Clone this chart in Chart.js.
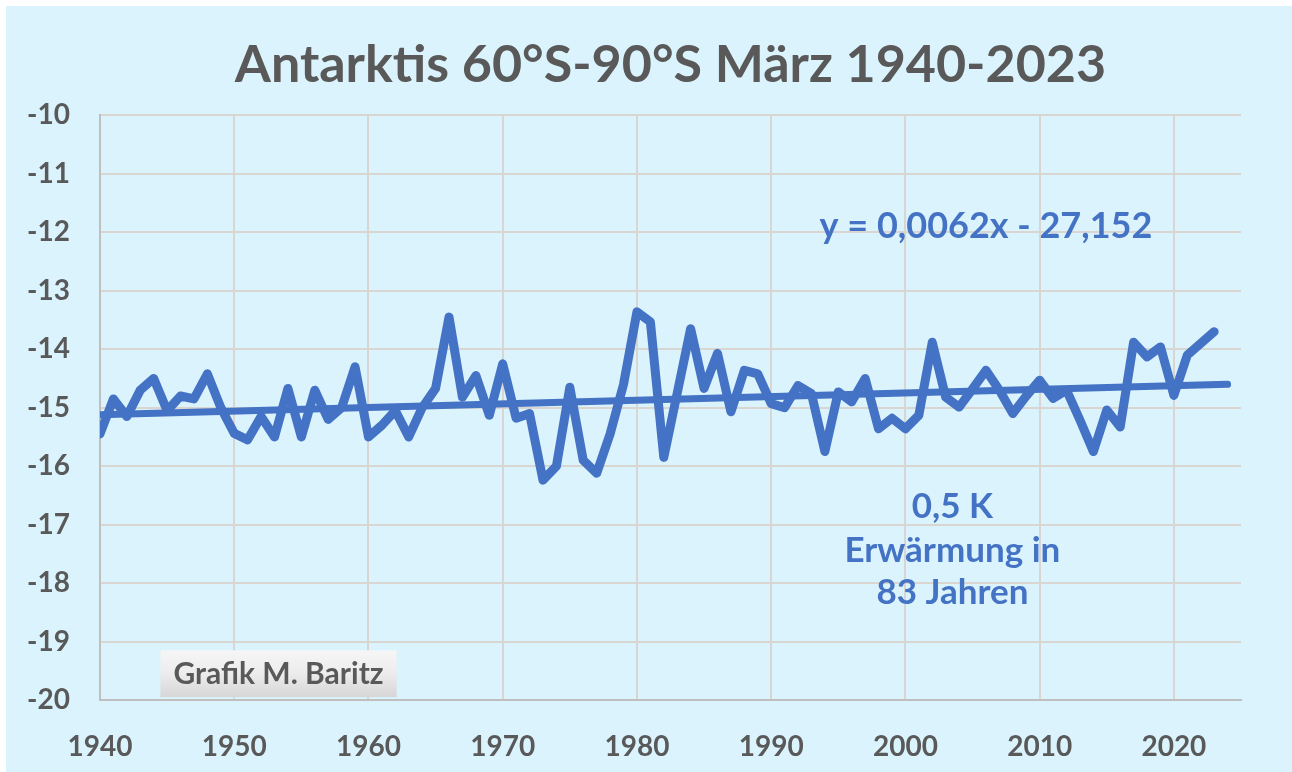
<!DOCTYPE html>
<html>
<head>
<meta charset="utf-8">
<script src="https://cdn.jsdelivr.net/npm/chart.js@4"></script>
<style>
  html, body { margin: 0; padding: 0; background: #ffffff; }
  #wrap { position: absolute; left: 6px; top: 6px; width: 1286px; height: 766px; background: #daf3fc; }
</style>
</head>
<body>
<div id="wrap"><canvas id="myChart" width="1286" height="766"></canvas></div>
<script>
// Jahre 1940-2023
const years = Array.from({ length: 84 }, (_, i) => 1940 + i);

// Temperatur März, Antarktis 60°S-90°S (°C)
const temps = [
  -15.45, -14.85, -15.15, -14.70, -14.50, -15.05, -14.80, -14.85, -14.42, -15.00,
  -15.44, -15.55, -15.15, -15.50, -14.67, -15.50, -14.70, -15.20, -15.00, -14.30,
  -15.50, -15.30, -15.05, -15.50, -15.00, -14.67, -13.45, -14.82, -14.45, -15.13,
  -14.25, -15.18, -15.10, -16.24, -16.00, -14.65, -15.90, -16.12, -15.45, -14.60,
  -13.36, -13.53, -15.85, -14.75, -13.65, -14.67, -14.07, -15.07, -14.36, -14.42,
  -14.93, -15.00, -14.62, -14.76, -15.75, -14.73, -14.90, -14.50, -15.36, -15.18,
  -15.36, -15.13, -13.88, -14.82, -14.99, -14.68, -14.36, -14.70, -15.10, -14.80,
  -14.53, -14.84, -14.70, -15.21, -15.75, -15.04, -15.33, -13.88, -14.13, -13.96,
  -14.79, -14.10, -13.90, -13.70
];

// Linearer Trend (Anfang und Ende)
const trendYears = [1940, 2024];
const trendValues = [-15.12, -14.60];

// Achsen
const xTicks = [1940, 1950, 1960, 1970, 1980, 1990, 2000, 2010, 2020];
const yMin = -20;
const yMax = -10;

const blue = "#4472c4";
const grey = "#595959";

// Texte im Diagramm
const notes = [
  { text: "y = 0,0062x - 27,152", x: 2006, y: -11.9, size: 36 },
  { text: "0,5 K", x: 2003.5, y: -16.7, size: 35 },
  { text: "Erwärmung in", x: 2003.5, y: -17.44, size: 35 },
  { text: "83 Jahren", x: 2003.5, y: -18.17, size: 35 }
];

const notesPlugin = {
  id: "notes",
  afterDatasetsDraw(chart) {
    const c = chart.ctx;
    const xs = chart.scales.x;
    const ys = chart.scales.y;
    c.save();
    c.fillStyle = blue;
    c.textAlign = "center";
    c.textBaseline = "middle";
    notes.forEach((n) => {
      c.font = "bold " + n.size + "px Lato";
      c.fillText(n.text, xs.getPixelForValue(n.x), ys.getPixelForValue(n.y));
    });

    // Kasten "Grafik M. Baritz"
    const bx = xs.getPixelForValue(1944.5);
    const bw = xs.getPixelForValue(1962.1) - bx;
    const by = ys.getPixelForValue(-19.15);
    const bh = ys.getPixelForValue(-19.95) - by;
    const g = c.createLinearGradient(0, by, 0, by + bh);
    g.addColorStop(0, "#f6f6f6");
    g.addColorStop(0.5, "#ececec");
    g.addColorStop(1, "#d6d6d6");
    c.fillStyle = g;
    c.fillRect(bx, by, bw, bh);
    c.font = "bold 30px Lato";
    c.fillStyle = grey;
    c.fillText("Grafik M. Baritz", bx + bw / 2, by + bh / 2 + 1);
    c.restore();
  }
};

const ctx = document.getElementById("myChart");
const myChart = new Chart(ctx, {
  type: "line",
  data: {
    datasets: [
      {
        label: "März",
        data: years.map((y, i) => ({ x: y, y: temps[i] })),
        borderColor: blue,
        borderWidth: 9,
        borderJoinStyle: "round",
        borderCapStyle: "round",
        pointRadius: 0,
        tension: 0
      },
      {
        label: "Trend",
        data: trendYears.map((y, i) => ({ x: y, y: trendValues[i] })),
        borderColor: blue,
        borderWidth: 7,
        borderCapStyle: "round",
        pointRadius: 0,
        tension: 0
      }
    ]
  },
  options: {
    responsive: false,
    animation: false,
    layout: { padding: { top: 0, right: 51, bottom: 0, left: 0 } },
    plugins: {
      legend: { display: false },
      tooltip: { enabled: false },
      title: {
        display: true,
        fullSize: false,
        text: "Antarktis 60°S-90°S März 1940-2023",
        color: grey,
        font: { family: "Lato", size: 52, weight: "bold" },
        padding: { top: 28, bottom: 19 }
      }
    },
    scales: {
      x: {
        type: "linear",
        min: 1940,
        max: 2025,
        afterBuildTicks: (scale) => {
          scale.ticks = xTicks.map((v) => ({ value: v }));
        },
        afterFit: (scale) => { scale.height = 72; },
        grid: { color: "#d9d6d2", lineWidth: 2, drawTicks: false },
        border: { color: "#bfbfbf", width: 2 },
        ticks: {
          padding: 30,
          color: grey,
          font: { family: "Lato", size: 28, weight: "bold" },
          callback: (v) => String(v)
        }
      },
      y: {
        min: yMin,
        max: yMax,
        afterFit: (scale) => { scale.width = 94; },
        grid: { color: "#d9d6d2", lineWidth: 2, drawTicks: false },
        border: { color: "#bfbfbf", width: 2 },
        ticks: {
          stepSize: 1,
          padding: 30,
          color: grey,
          font: { family: "Lato", size: 28, weight: "bold" }
        }
      }
    }
  },
  plugins: [notesPlugin]
});
</script>
</body>
</html>
